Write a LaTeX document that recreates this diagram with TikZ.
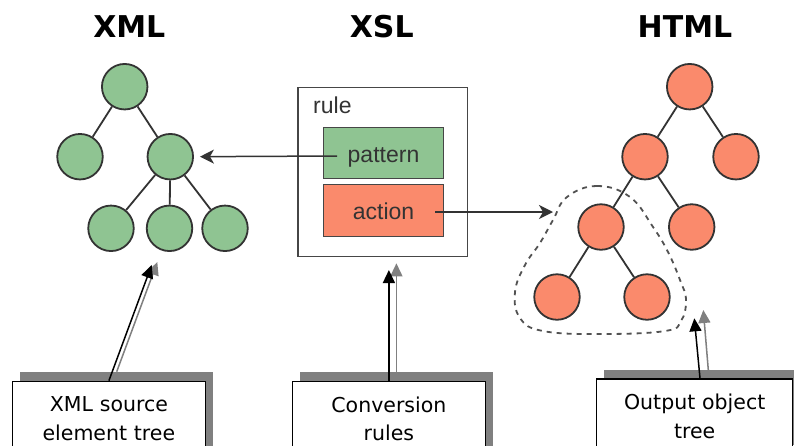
\documentclass[tikz,border=0pt]{standalone}
\usepackage{fontspec}
\setmainfont{DejaVu Sans}
\newfontfamily\rulefont{Liberation Sans}
\usetikzlibrary{arrows.meta,shadows,calc}
\definecolor{treegreen}{RGB}{143,196,146}
\definecolor{treesalmon}{RGB}{250,138,108}
\definecolor{edgegray}{RGB}{51,51,51}
\definecolor{boxgray}{RGB}{70,70,70}
\definecolor{shadowgray}{RGB}{128,128,128}
\begin{document}
\begin{tikzpicture}[x=1pt,y=-1pt,
  title/.style={font=\fontsize{30}{30}\selectfont\bfseries, anchor=base, inner sep=0pt},
  treenode/.style={circle, draw=edgegray, line width=1.8pt, minimum size=45.5pt, inner sep=0pt},
  gnode/.style={treenode, fill=treegreen},
  snode/.style={treenode, fill=treesalmon},
  treeedge/.style={draw=edgegray, line width=1.8pt},
  innerbox/.style={draw=boxgray, line width=1.5pt, minimum width=120pt, inner sep=0pt,
    font=\rulefont\fontsize{23}{23}\selectfont, text=edgegray, text height=18pt, text depth=0pt},
  conn/.style={draw=edgegray, line width=1.5pt, -{Stealth[length=14pt,width=14pt,inset=4pt]}},
  callout/.style={draw=black, line width=1.2pt, fill=white, inner xsep=0pt, inner ysep=15.5pt,
    text width=192.5pt, align=center, font=\fontsize{20.5}{28.5}\selectfont,
    drop shadow={shadow xshift=7.5pt, shadow yshift=9pt, fill=shadowgray, opacity=1}},
  blackarrow/.style={draw=black, line width=1.5pt, -{Triangle[length=13pt,width=12pt]}},
  grayarrow/.style={draw=shadowgray, line width=1.5pt, -{Triangle[length=13pt,width=12pt]}},
  dashcurve/.style={draw=edgegray!85, line width=1.8pt, dash pattern=on 5pt off 5pt}
]
\useasboundingbox (0,0) rectangle (794,445);
\clip (0,0) rectangle (794,445);
\fill[white] (0,0) rectangle (794,445);

% titles
\node[title] (txml) at (129.3,37) {XML};
\node[title] (txsl) at (381.7,37) {XSL};
\node[title] (thtml) at (685,37) {HTML};

% XML tree
\node[gnode] (x1) at (124.7,86.7) {};
\node[gnode] (x2) at (80,156.7) {};
\node[gnode] (x3) at (170.3,156.7) {};
\node[gnode] (x4) at (111,228.3) {};
\node[gnode] (x5) at (169.5,228.3) {};
\node[gnode] (x6) at (225,228.3) {};
\draw[treeedge] (x1) -- (x2);
\draw[treeedge] (x1) -- (x3);
\draw[treeedge] (x3) -- (x4);
\draw[treeedge] (x3) -- (x5);
\draw[treeedge] (x3) -- (x6);

% HTML tree
\node[snode] (h1) at (689.7,86.7) {};
\node[snode] (h2) at (645,156.7) {};
\node[snode] (h3) at (736,156.7) {};
\node[snode] (h4) at (601,227) {};
\node[snode] (h5) at (691.7,227) {};
\node[snode] (h6) at (557,297) {};
\node[snode] (h7) at (647,297) {};
\draw[treeedge] (h1) -- (h2);
\draw[treeedge] (h1) -- (h3);
\draw[treeedge] (h2) -- (h4);
\draw[treeedge] (h2) -- (h5);
\draw[treeedge] (h4) -- (h6);
\draw[treeedge] (h4) -- (h7);

% dashed enclosure
\draw[dashcurve] plot[smooth cycle, tension=0.7] coordinates {
  (567,197) (597,186) (630,197) (653,227) (668,252) (680,280) (686,300)
  (681,321) (665,331) (600,334) (543,331) (520,318) (515,292) (525,265) (540,243) (553,220)};

% XSL rule
\node[draw=boxgray, line width=1.5pt, minimum width=169.5pt, minimum height=169pt, inner sep=0pt] (rulebox) at (382.5,172) {};
\node[anchor=base west, inner sep=0pt, font=\rulefont\fontsize{23}{23}\selectfont, text=edgegray] (rulelabel) at (313,113) {rule};
\node[innerbox, fill=treegreen, minimum height=51pt] (pattern) at (383.5,153) {pattern};
\node[innerbox, fill=treesalmon, minimum height=52pt] (action) at (383.5,210.5) {action};

\coordinate (pstart) at (337,156);
\draw[conn, shorten >=6pt] (pstart) -- (x3.east);
\coordinate (astart) at (435,212);
\coordinate (atip) at (553,212);
\draw[conn] (astart) -- (atip);

% callouts
\node[callout, anchor=north] (c1) at (108.9,380.7) {XML source\\element tree};
\node[callout, anchor=north] (c2) at (388.9,380.7) {Conversion\\rules};
\node[callout, anchor=north, text width=196pt] (c3) at (694.7,378.3) {Output object\\tree};

\coordinate (g1) at (157.3,262);
\coordinate (t1) at (151.7,265);
\coordinate (g2) at (396.4,263.3);
\coordinate (t2) at (388.9,270);
\coordinate (g3) at (703.3,310);
\coordinate (t3) at (694.3,318.3);

\draw[grayarrow] ($(c1.north)+(7.8,-9)$) -- (g1);
\draw[blackarrow] (c1.north) -- (t1);
\draw[grayarrow] ($(c2.north)+(7.5,-9)$) -- (g2);
\draw[blackarrow] (c2.north) -- (t2);
\draw[grayarrow] ($(c3.north)+(13.6,-8.3)$) -- (g3);
\draw[blackarrow] ($(c3.north)+(5.3,0)$) -- (t3);
\end{tikzpicture}
\end{document}
